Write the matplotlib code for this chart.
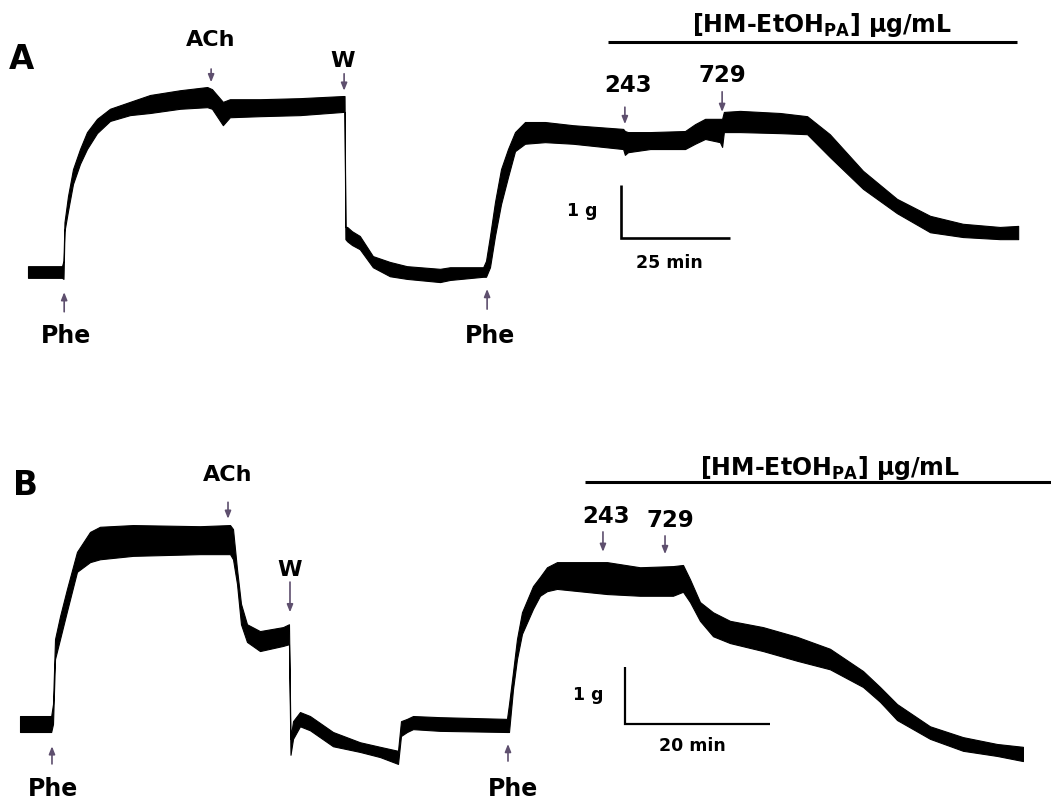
import matplotlib
matplotlib.use("Agg")
import matplotlib.pyplot as plt

# ---------------- Panel A data (time in min, tension in g) ----------------
tA = [0, 7.8, 8.14, 8.37, 9.17, 10.32, 11.93, 13.53, 15.83, 18.81, 23.39, 28.0, 34.9,
      41.1, 42.2, 44.7, 46.3, 53.2, 62.4, 72.2, 72.6, 72.8, 73.2, 74.3, 76.1, 79.1,
      83.0, 86.9, 94.5, 96.8, 104.4, 105.05, 105.96, 107.11, 108.49, 110.09, 111.70,
      113.99, 118.58, 125.0, 136.5, 136.9, 137.6, 142.7, 150.7, 153.0, 155.3, 158.7,
      159.2, 159.6, 163.3, 172.5, 178.7, 183.9, 191.5, 199.3, 206.9, 214.4, 222.9, 227.1]
A_hi = [0.11, 0.11, 0.21, 0.94, 1.43, 1.94, 2.32, 2.64, 2.89, 3.08, 3.21, 3.34, 3.43,
        3.49, 3.45, 3.21, 3.26, 3.26, 3.28, 3.32, 3.32, 0.85, 0.85, 0.77, 0.68, 0.30,
        0.19, 0.11, 0.06, 0.09, 0.09, 0.21, 0.68, 1.32, 1.94, 2.32, 2.64,
        2.83, 2.83, 2.77, 2.70, 2.66, 2.64, 2.64, 2.66, 2.79, 2.89, 2.89,
        2.89, 3.02, 3.04, 3.00, 2.94, 2.60, 1.91, 1.38, 1.06, 0.91, 0.85, 0.87]
A_lo = [-0.11, -0.11, -0.13, 0.77, 1.15, 1.66, 2.04, 2.32, 2.62, 2.85, 2.96, 3.00, 3.08,
        3.11, 3.08, 2.77, 2.92, 2.94, 2.96, 3.02, 3.02, 0.62, 0.58, 0.51, 0.43, 0.09,
        -0.08, -0.13, -0.19, -0.15, -0.09, -0.09, 0.09, 0.68, 1.28, 1.79, 2.28,
        2.42, 2.45, 2.42, 2.32, 2.21, 2.26, 2.32, 2.32, 2.42, 2.51, 2.45,
        2.36, 2.64, 2.64, 2.62, 2.60, 2.17, 1.57, 1.11, 0.75, 0.66, 0.62, 0.62]

# events A: label, time (min)
A_events = ["Phe", "ACh", "W", "Phe", "243", "729"]
A_event_t = [8.3, 42.0, 72.5, 105.3, 136.9, 159.2]

# ---------------- Panel B data ----------------
tB = [0, 4.3, 4.55, 4.83, 5.52, 6.48, 7.86, 9.66, 11.03, 15.59, 24.83, 28.97, 29.38,
      29.93, 30.48, 31.31, 33.10, 36.28, 37.10, 37.31, 37.66, 38.62, 40.0, 43.17,
      46.90, 49.66, 52.14, 52.55, 53.38, 54.21, 57.93, 67.17, 67.45, 68.0, 68.55,
      69.24, 70.76, 71.72, 72.69, 74.07, 80.97, 85.52, 90.07, 91.45, 92.41, 93.79,
      95.59, 97.93, 102.48, 107.17, 111.72, 116.28, 118.62, 120.97, 125.52, 130.07,
      134.76, 138.34]
B_hi = [0.14, 0.14, 0.35, 1.49, 1.89, 2.37, 3.02, 3.37, 3.46, 3.49, 3.47, 3.49, 3.42,
        2.72, 2.11, 1.75, 1.63, 1.70, 1.75, -0.26, 0.05, 0.21, 0.14, -0.14,
        -0.32, -0.40, -0.47, 0.05, 0.09, 0.14, 0.12, 0.09, 0.35, 0.91, 1.49,
        1.96, 2.42, 2.58, 2.75, 2.84, 2.84, 2.75, 2.77, 2.79, 2.54, 2.14,
        1.96, 1.81, 1.70, 1.53, 1.32, 0.93, 0.65, 0.35, -0.04, -0.23,
        -0.35, -0.40]
B_lo = [-0.14, -0.14, 0.0, 1.14, 1.49, 1.98, 2.67, 2.84, 2.89, 2.95, 2.98, 2.98, 2.89,
        2.46, 1.75, 1.44, 1.28, 1.37, 1.40, -0.54, -0.26, -0.04, -0.11, -0.39,
        -0.49, -0.58, -0.70, -0.21, -0.14, -0.09, -0.12, -0.14, -0.14, 0.61, 1.14,
        1.58, 2.02, 2.25, 2.33, 2.37, 2.28, 2.25, 2.25, 2.32, 2.14, 1.81,
        1.54, 1.42, 1.28, 1.11, 0.96, 0.65, 0.39, 0.07, -0.26, -0.47,
        -0.56, -0.65]

B_events = ["Phe", "ACh", "W", "Phe", "243", "729"]
B_event_t = [4.41, 28.69, 37.24, 67.31, 80.41, 88.97]

drug_label = r"[HM-EtOH$_{\mathbf{PA}}$] µg/mL"

plt.rcParams['font.family'] = ['DejaVu Sans']
fig = plt.figure(figsize=(10.51, 8.03), dpi=100)

ARROW_C = "#5e4f6e"
FS_LAB = 16.5
FS_SC = 12.5


def arrow(ax, t, y_tail, y_head):
    ax.annotate("", xy=(t, y_head), xytext=(t, y_tail),
                arrowprops=dict(arrowstyle="-|>,head_length=0.45,head_width=0.18",
                                color=ARROW_C, lw=1.2, shrinkA=0, shrinkB=0))


# ================= Panel A =================
axA = fig.add_axes([0, 1 - 400 / 803, 1, 400 / 803])
axA.set_xlim(-6.42, 234.63)
axA.set_ylim(-2.396, 5.151)
axA.axis("off")
axA.fill_between(tA, A_lo, A_hi, color="black", lw=0.8)

axA.text(-1.4, 4.02, "A", fontsize=23.5, fontweight="bold", ha="center", va="center")

# Phe 1
arrow(axA, A_event_t[0], -0.75, -0.38)
axA.text(A_event_t[0] + 0.5, -1.19, A_events[0], fontsize=17, fontweight="bold", ha="center", va="center")
# ACh
arrow(axA, A_event_t[1], 3.83, 3.58)
axA.text(A_event_t[1], 4.40, A_events[1], fontsize=16, fontweight="bold", ha="center", va="center")
# W
arrow(axA, A_event_t[2], 3.74, 3.42)
axA.text(A_event_t[2] - 0.3, 4.0, A_events[2], fontsize=16, fontweight="bold", ha="center", va="center")
# Phe 2
arrow(axA, A_event_t[3], -0.70, -0.32)
axA.text(A_event_t[3] + 0.7, -1.19, A_events[3], fontsize=17, fontweight="bold", ha="center", va="center")
# 243
arrow(axA, A_event_t[4], 3.11, 2.79)
axA.text(A_event_t[4] + 0.7, 3.53, A_events[4], fontsize=FS_LAB, fontweight="bold", ha="center", va="center")
# 729
arrow(axA, A_event_t[5], 3.40, 3.02)
axA.text(A_event_t[5], 3.72, A_events[5], fontsize=FS_LAB, fontweight="bold", ha="center", va="center")

# drug bar
axA.plot([133.0, 226.8], [4.34, 4.34], color="black", lw=2.2, solid_capstyle="butt")
axA.text(182.1, 4.68, drug_label, fontsize=17, fontweight="bold", ha="center", va="center")

# scale bar A: 1 g, 25 min
axA.plot([136.0, 136.0, 161.0], [1.64, 0.64, 0.64], color="black", lw=1.9,
         solid_joinstyle="miter", solid_capstyle="butt")
axA.text(127.1, 1.17, "1 g", fontsize=FS_SC, fontweight="bold", ha="center", va="center")
axA.text(147.2, 0.19, "25 min", fontsize=FS_SC, fontweight="bold", ha="center", va="center")

# ================= Panel B =================
axB = fig.add_axes([0, 0, 1, 400 / 803])
axB.set_xlim(-2.76, 142.21)
axB.set_ylim(-1.368, 5.649)
axB.axis("off")
axB.fill_between(tB, B_lo, B_hi, color="black", lw=0.8)

axB.text(0.69, 4.21, "B", fontsize=23.5, fontweight="bold", ha="center", va="center")

arrow(axB, B_event_t[0], -0.70, -0.39)
axB.text(B_event_t[0] + 0.15, -1.12, B_events[0], fontsize=17, fontweight="bold", ha="center", va="center")
arrow(axB, B_event_t[1], 3.89, 3.60)
axB.text(B_event_t[1], 4.39, B_events[1], fontsize=16, fontweight="bold", ha="center", va="center")
arrow(axB, B_event_t[2], 2.49, 1.96)
axB.text(B_event_t[2], 2.72, B_events[2], fontsize=16, fontweight="bold", ha="center", va="center")
arrow(axB, B_event_t[3], -0.65, -0.35)
axB.text(B_event_t[3] + 0.7, -1.12, B_events[3], fontsize=17, fontweight="bold", ha="center", va="center")
arrow(axB, B_event_t[4], 3.37, 3.02)
axB.text(B_event_t[4] + 0.4, 3.65, B_events[4], fontsize=FS_LAB, fontweight="bold", ha="center", va="center")
arrow(axB, B_event_t[5], 3.30, 2.98)
axB.text(B_event_t[5] + 0.7, 3.58, B_events[5], fontsize=FS_LAB, fontweight="bold", ha="center", va="center")

axB.plot([77.93, 142.21], [4.25, 4.25], color="black", lw=2.2, solid_capstyle="butt")
axB.text(111.72, 4.51, drug_label, fontsize=17, fontweight="bold", ha="center", va="center")

# scale bar B: 1 g, 20 min
axB.plot([83.45, 83.45, 103.45], [1.0, 0.0, 0.0], color="black", lw=1.6,
         solid_joinstyle="miter", solid_capstyle="butt")
axB.text(78.34, 0.53, "1 g", fontsize=FS_SC, fontweight="bold", ha="center", va="center")
axB.text(92.69, -0.37, "20 min", fontsize=FS_SC, fontweight="bold", ha="center", va="center")

fig.savefig("out.png", dpi=100, facecolor="white")
